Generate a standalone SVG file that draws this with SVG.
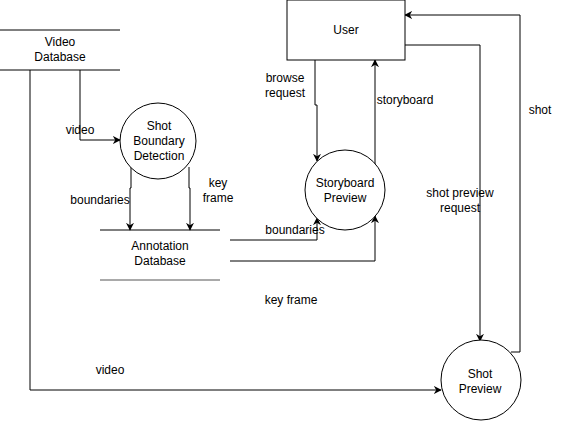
<svg xmlns="http://www.w3.org/2000/svg" width="561" height="421" viewBox="0 0 561 421">
<style>
text{font-family:"Liberation Sans",Arial,sans-serif;font-size:12px;fill:#000;text-anchor:middle}
.n{fill:#fff;stroke:#000;stroke-width:1}
.e{fill:none;stroke:#000;stroke-width:1}
.a{marker-end:url(#arr)}
</style>
<defs>
<marker id="arr" viewBox="0 0 10 10" refX="9" refY="5" markerWidth="8" markerHeight="8" markerUnits="userSpaceOnUse" orient="auto">
<path d="M0,0 L10,5 L0,10 L3,5 Z" fill="#000"/>
</marker>
</defs>
<rect width="561" height="421" fill="#fff"/>
<g id="connectors">
<path class="e a" d="M80,70 V140 H120"/>
<path class="e a" d="M30,70 V390 H441"/>
<path class="e a" d="M131,167 V188 H130 V230"/>
<path class="e a" d="M189,167 V188 H190 V230"/>
<path class="e a" d="M315,60 V105 H317 V161"/>
<path class="e a" d="M375,164 V60"/>
<path class="e a" d="M405,45 H480 V341"/>
<path class="e a" d="M511,352 H520 V15 H405"/>
<path class="e a" d="M230,240 H317 V218"/>
<path class="e a" d="M230,261 H375 V216"/>
</g>
<g id="video-database">
<line class="e" x1="0" y1="30" x2="120" y2="30"/>
<line class="e" x1="0" y1="70" x2="120" y2="70"/>
<text x="60" y="46">Video</text>
<text x="60" y="61">Database</text>
</g>
<g id="shot-boundary-detection">
<circle class="n" cx="158" cy="141" r="38"/>
<text x="159" y="130">Shot</text>
<text x="159" y="145">Boundary</text>
<text x="159" y="160">Detection</text>
</g>
<g id="annotation-database">
<line class="e" x1="100" y1="230" x2="220" y2="230"/>
<line x1="100" y1="280" x2="220" y2="280" stroke="#555" stroke-width="1"/>
<text x="160" y="250">Annotation</text>
<text x="160" y="265">Database</text>
</g>
<g id="user">
<rect class="n" x="287" y="0" width="118" height="60"/>
<text x="346" y="34">User</text>
</g>
<g id="storyboard-preview">
<circle class="n" cx="345" cy="190" r="40"/>
<text x="345" y="187">Storyboard</text>
<text x="345" y="202">Preview</text>
</g>
<g id="shot-preview">
<circle class="n" cx="481" cy="380" r="40"/>
<text x="480" y="378">Shot</text>
<text x="480" y="393">Preview</text>
</g>
<g id="labels">
<text x="80" y="134">video</text>
<text x="100" y="204">boundaries</text>
<text x="218" y="187">key</text>
<text x="218" y="202">frame</text>
<text x="285" y="82">browse</text>
<text x="285" y="97">request</text>
<text x="405" y="104">storyboard</text>
<text x="460" y="197">shot preview</text>
<text x="460" y="212">request</text>
<text x="540" y="114">shot</text>
<text x="295" y="234">boundaries</text>
<text x="291" y="304">key frame</text>
<text x="110" y="374">video</text>
</g>
</svg>
